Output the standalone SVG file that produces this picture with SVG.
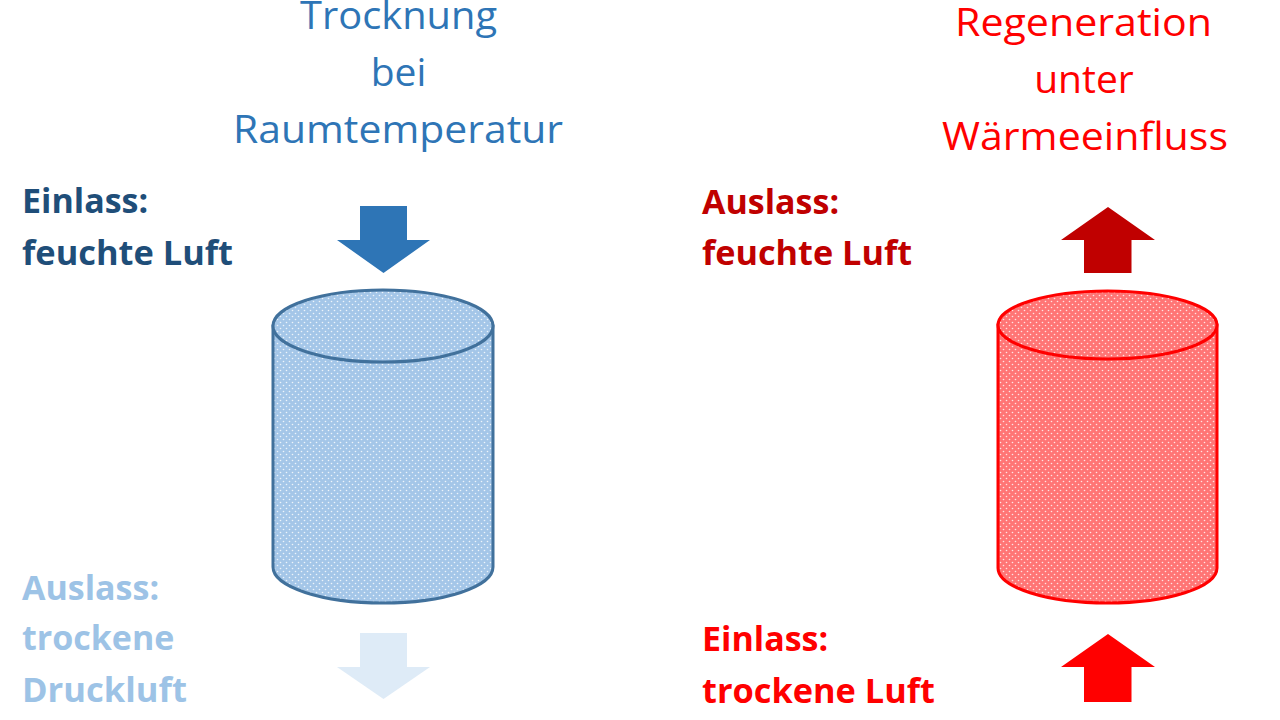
<svg xmlns="http://www.w3.org/2000/svg" width="1280" height="720" viewBox="0 0 1280 720">
<style>
.t{font-family:"Open Sans","Liberation Sans",sans-serif;font-size:39px;text-anchor:middle}
.b{font-family:"Open Sans","Liberation Sans",sans-serif;font-size:34px;font-weight:bold}
</style>
<defs>
<pattern id="dotsB" width="6" height="6" patternUnits="userSpaceOnUse">
<rect width="6" height="6" fill="#A4C6E8"/>
<circle cx="1.5" cy="1.5" r="0.8" fill="#fff" fill-opacity="0.8"/>
<circle cx="4.5" cy="4.5" r="0.8" fill="#fff" fill-opacity="0.8"/>
</pattern>
<pattern id="dotsR" width="6" height="6" patternUnits="userSpaceOnUse">
<rect width="6" height="6" fill="#FF7575"/>
<circle cx="1.5" cy="1.5" r="0.8" fill="#fff" fill-opacity="0.8"/>
<circle cx="4.5" cy="4.5" r="0.8" fill="#fff" fill-opacity="0.8"/>
</pattern>
</defs>
<rect width="1280" height="720" fill="#fff"/>

<g id="title-left" fill="#2E75B6">
<text class="t" x="398.5" y="29" textLength="197" lengthAdjust="spacingAndGlyphs">Trocknung</text>
<text class="t" x="398.5" y="86">bei</text>
<text class="t" x="398" y="143" textLength="330" lengthAdjust="spacingAndGlyphs">Raumtemperatur</text>
</g>
<g id="title-right" fill="#FF0000">
<text class="t" x="1083.5" y="36" textLength="257" lengthAdjust="spacingAndGlyphs">Regeneration</text>
<text class="t" x="1084" y="93">unter</text>
<text class="t" x="1085" y="150" textLength="286" lengthAdjust="spacingAndGlyphs">Wärmeeinfluss</text>
</g>

<g id="label-einlass-left" fill="#1F4E79">
<text class="b" x="22" y="213">Einlass:</text>
<text class="b" x="22" y="265" textLength="211" lengthAdjust="spacingAndGlyphs">feuchte Luft</text>
</g>
<g id="label-auslass-left" fill="#9DC3E6">
<text class="b" x="22" y="600">Auslass:</text>
<text class="b" x="22" y="650">trockene</text>
<text class="b" x="22" y="702" textLength="165" lengthAdjust="spacingAndGlyphs">Druckluft</text>
</g>
<g id="label-auslass-right" fill="#C00000">
<text class="b" x="702" y="214">Auslass:</text>
<text class="b" x="702" y="265" textLength="210" lengthAdjust="spacingAndGlyphs">feuchte Luft</text>
</g>
<g id="label-einlass-right" fill="#FF0000">
<text class="b" x="702" y="651">Einlass:</text>
<text class="b" x="702" y="703" textLength="233" lengthAdjust="spacingAndGlyphs">trockene Luft</text>
</g>

<g id="cylinder-left">
<path d="M273,326 L273,567 A110,36 0 0 0 493,567 L493,326 Z" fill="url(#dotsB)" stroke="#41719C" stroke-width="3"/>
<ellipse cx="383" cy="326" rx="110" ry="36" fill="url(#dotsB)" stroke="#41719C" stroke-width="3"/>
</g>
<g id="cylinder-right">
<path d="M998,325 L998,568 A109.5,35 0 0 0 1217,568 L1217,325 Z" fill="url(#dotsR)" stroke="#FF0000" stroke-width="3"/>
<ellipse cx="1107.5" cy="325" rx="109.5" ry="34" fill="url(#dotsR)" stroke="#FF0000" stroke-width="3"/>
</g>

<g id="connectors">
<polygon points="360,206 407,206 407,240 430,240 383.5,273 337,240 360,240" fill="#2E75B6"/>
<polygon points="360,633 407,633 407,667 430,667 383.5,699 337,667 360,667" fill="#DEEBF7"/>
<polygon points="1108,207 1155,240 1131.5,240 1131.5,273 1084,273 1084,240 1061,240" fill="#C00000"/>
<polygon points="1108,634 1155,667 1131.5,667 1131.5,702 1084,702 1084,667 1061,667" fill="#FF0000"/>
</g>
</svg>
